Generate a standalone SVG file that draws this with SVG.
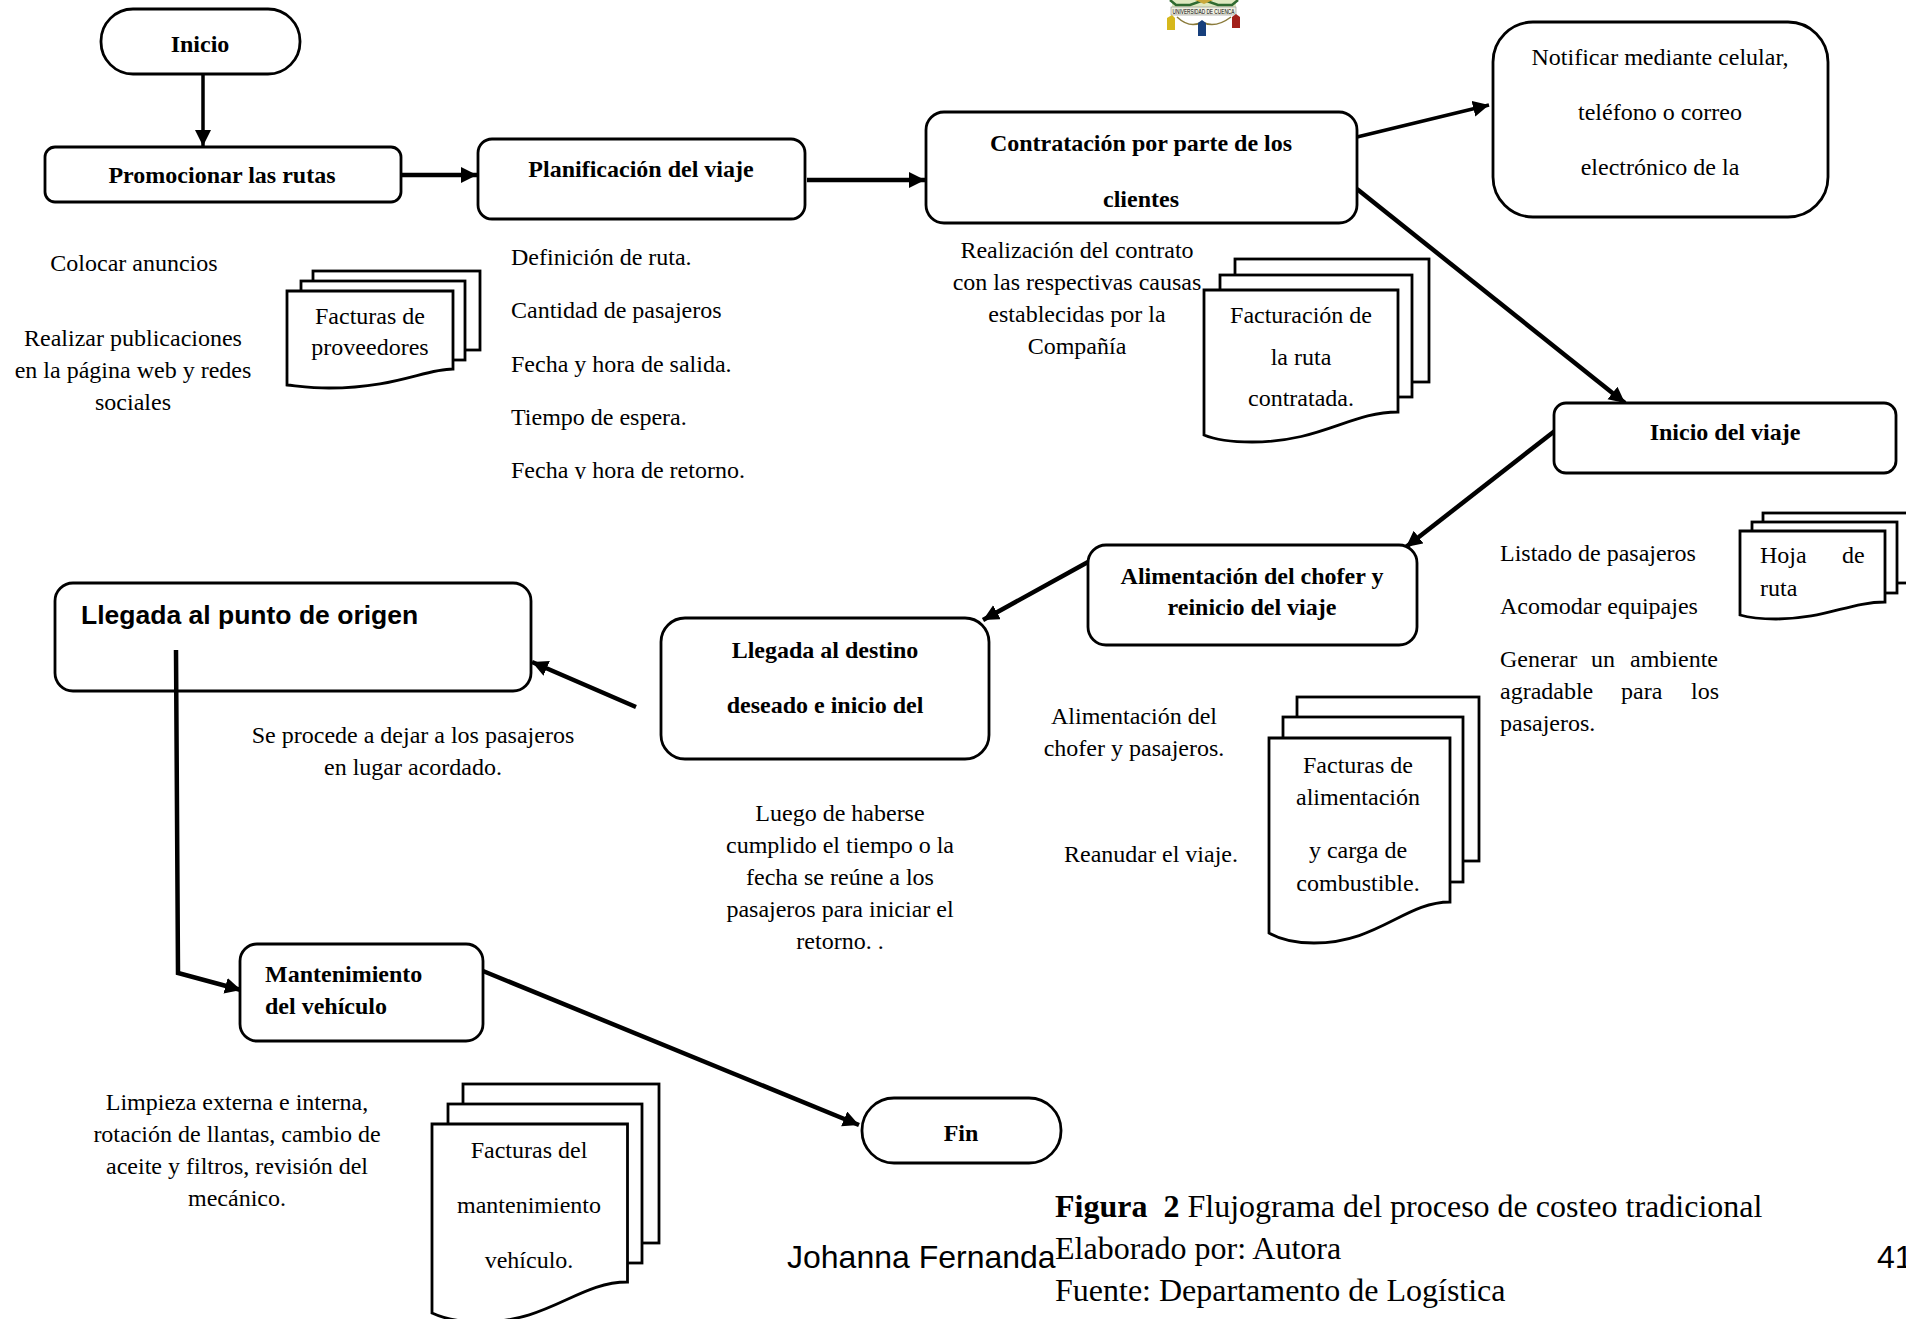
<svg xmlns="http://www.w3.org/2000/svg" width="1906" height="1319" viewBox="0 0 1906 1319">
<style>
text{font-family:"Liberation Serif","Times New Roman",serif;font-size:24px;fill:#000}
.b{font-weight:bold}
.c{text-anchor:middle}
.a{font-family:"Liberation Sans",Arial,sans-serif}
.s{fill:#fff;stroke:#000;stroke-width:2.800}
.l{fill:none;stroke:#000;stroke-width:3.5}
.t{stroke-width:4.5}
.p{font-size:32px;white-space:pre}
</style>
<defs>
<marker id="h" markerUnits="userSpaceOnUse" markerWidth="18" markerHeight="18" refX="16" refY="8" orient="auto"><path d="M0 0L16 8L0 16Z" fill="#000"/></marker>
<clipPath id="cl"><rect x="500" y="450" width="300" height="29"/></clipPath>
</defs>
<rect width="1906" height="1319" fill="#fff"/>
<g id="logo">
<path d="M1172 0H1236V8H1172Z" fill="#dfe8c0"/>
<path d="M1170 0L1176 5H1190L1204 0L1218 5H1232L1238 0" fill="none" stroke="#2f6a30" stroke-width="2.500"/>
<path d="M1195 0L1204 4L1213 0Z" fill="#c9a83a"/>
<rect x="1171" y="7" width="65" height="8" fill="#f0f0e2" stroke="#777" stroke-width="0.500"/>
<text x="1203.500" y="14" class="c" style="font-size:6.500px;font-family:'Liberation Sans',sans-serif" textLength="62" lengthAdjust="spacingAndGlyphs">UNIVERSIDAD DE CUENCA</text>
<path d="M1177 17Q1190 29 1202 22Q1215 29 1231 17" fill="none" stroke="#8a7a3a" stroke-width="1.500"/>
<path d="M1167 18L1172 15L1175 18V30H1167Z" fill="#d6b81c"/>
<path d="M1198 23L1202 20L1206 23V36H1198Z" fill="#173f7c"/>
<path d="M1232 17L1236 14L1240 17V28H1232Z" fill="#a3201a"/>
</g>
<g id="connectors">
<path class="l" d="M203 75V146" marker-end="url(#h)"/>
<path class="l t" d="M401 175H477" marker-end="url(#h)"/>
<path class="l t" d="M807 180H925" marker-end="url(#h)"/>
<path class="l" d="M1357 137L1489 105" marker-end="url(#h)"/>
<path class="l t" d="M1357 189L1625 403" marker-end="url(#h)"/>
<path class="l t" d="M1556 430L1406 547" marker-end="url(#h)"/>
<path class="l t" d="M1088 562L983 620" marker-end="url(#h)"/>
<path class="l t" d="M636 707L532 662" marker-end="url(#h)"/>
<path class="l t" d="M176 650L178 973L241 990" marker-end="url(#h)"/>
<path class="l t" d="M483 971L859 1125" marker-end="url(#h)"/>
</g>
<g id="inicio"><rect class="s" x="101" y="9" width="199" height="65" rx="32"/><text x="200" y="52" class="b c">Inicio</text></g>
<g id="promocionar"><rect class="s" x="45" y="147" width="356" height="55" rx="10"/><text x="222" y="183" class="b c">Promocionar las rutas</text></g>
<g id="planificacion"><rect class="s" x="478" y="139" width="327" height="80" rx="14"/><text x="641" y="177" class="b c">Planificación del viaje</text></g>
<g id="contratacion"><rect class="s" x="926" y="112" width="431" height="111" rx="18"/><text x="1141" y="151" class="b c">Contratación por parte de los</text><text x="1141" y="207" class="b c">clientes</text></g>
<g id="notificar"><rect class="s" x="1493" y="22" width="335" height="195" rx="40"/><text x="1660" y="65" class="c">Notificar mediante celular,</text><text x="1660" y="120" class="c">teléfono o correo</text><text x="1660" y="175" class="c">electrónico de la</text></g>
<g id="inicio-viaje"><rect class="s" x="1554" y="403" width="342" height="70" rx="12"/><text x="1725" y="440" class="b c">Inicio del viaje</text></g>
<g id="alimentacion"><rect class="s" x="1088" y="545" width="329" height="100" rx="18"/><text x="1252" y="584" class="b c">Alimentación del chofer y</text><text x="1252" y="615" class="b c">reinicio del viaje</text></g>
<g id="llegada-destino"><rect class="s" x="661" y="618" width="328" height="141" rx="24"/><text x="825" y="658" class="b c">Llegada al destino</text><text x="825" y="713" class="b c">deseado e inicio del</text></g>
<g id="llegada-origen"><rect class="s" x="55" y="583" width="476" height="108" rx="18" style="fill:none"/><text x="81" y="624" class="a b" style="font-size:26.500px">Llegada al punto de origen</text></g>
<g id="mantenimiento"><rect class="s" x="240" y="944" width="243" height="97" rx="17"/><text x="265" y="982" class="b">Mantenimiento</text><text x="265" y="1014" class="b">del vehículo</text></g>
<g id="fin"><rect class="s" x="862" y="1098" width="199" height="65" rx="32"/><text x="961" y="1141" class="b c">Fin</text></g>

<g id="doc-proveedores"><rect class="s" x="313" y="271" width="167" height="79"/><rect class="s" x="301" y="281" width="164" height="79"/>
<path class="s" d="M287 291H453V369C425 369 395 388 329 388C312 388 298 386 287 385Z"/>
<text x="370" y="324" class="c">Facturas de</text><text x="370" y="355" class="c">proveedores</text></g>
<g id="doc-facturacion"><rect class="s" x="1235" y="259" width="194" height="123"/><rect class="s" x="1220" y="275" width="192" height="122"/>
<path class="s" d="M1204 290H1398V412C1350 412 1322 442 1252 442C1234 442 1218 441 1204 435Z"/>
<text x="1301" y="323" class="c">Facturación de</text><text x="1301" y="365" class="c">la ruta</text><text x="1301" y="406" class="c">contratada.</text></g>
<g id="doc-hoja"><rect class="s" x="1763" y="513" width="160" height="70"/><rect class="s" x="1752" y="522" width="145" height="71"/>
<path class="s" d="M1740 531H1885V602C1850 602 1825 619 1776 619C1763 619 1750 618 1740 615Z"/>
<text y="563"><tspan x="1760">Hoja</tspan> <tspan x="1842">de</tspan></text><text x="1760" y="596">ruta</text></g>
<g id="doc-alimentacion"><rect class="s" x="1297" y="697" width="182" height="164"/><rect class="s" x="1283" y="717" width="180" height="165"/>
<path class="s" d="M1269 738H1450V902C1405 902 1378 943 1314 943C1298 943 1283 941 1269 933Z"/>
<text x="1358" y="773" class="c">Facturas de</text><text x="1358" y="805" class="c">alimentación</text><text x="1358" y="858" class="c">y carga de</text><text x="1358" y="891" class="c">combustible.</text></g>
<g id="doc-mantenimiento"><rect class="s" x="463" y="1084" width="196" height="159"/><rect class="s" x="448" y="1104" width="194" height="159"/>
<path class="s" d="M432 1124H627.500V1282C578 1282 550 1322 481 1322C463 1322 447 1320 432 1313Z"/>
<text x="529" y="1158" class="c">Facturas del</text><text x="529" y="1213" class="c">mantenimiento</text><text x="529" y="1268" class="c">vehículo.</text></g>

<g id="notas">
<text x="134" y="271" class="c">Colocar anuncios</text>
<text x="133" y="346" class="c">Realizar publicaciones</text><text x="133" y="378" class="c">en la página web y redes</text><text x="133" y="410" class="c">sociales</text>
<text x="511" y="265">Definición de ruta.</text><text x="511" y="318">Cantidad de pasajeros</text><text x="511" y="372">Fecha y hora de salida.</text><text x="511" y="425">Tiempo de espera.</text><text x="511" y="478" clip-path="url(#cl)">Fecha y hora de retorno.</text>
<text x="1077" y="258" class="c">Realización del contrato</text><text x="1077" y="290" class="c">con las respectivas causas</text><text x="1077" y="322" class="c">establecidas por la</text><text x="1077" y="354" class="c">Compañía</text>
<text x="1500" y="561">Listado de pasajeros</text><text x="1500" y="614">Acomodar equipajes</text>
<text y="667"><tspan x="1500">Generar</tspan> <tspan x="1591">un</tspan> <tspan x="1630">ambiente</tspan></text>
<text y="699"><tspan x="1500">agradable</tspan> <tspan x="1621">para</tspan> <tspan x="1691">los</tspan></text>
<text x="1500" y="731">pasajeros.</text>
<text x="1134" y="724" class="c">Alimentación del</text><text x="1134" y="756" class="c">chofer y pasajeros.</text>
<text x="1151" y="862" class="c">Reanudar el viaje.</text>
<text x="413" y="743" class="c">Se procede a dejar a los pasajeros</text><text x="413" y="775" class="c">en lugar acordado.</text>
<text x="840" y="821" class="c">Luego de haberse</text><text x="840" y="853" class="c">cumplido el tiempo o la</text><text x="840" y="885" class="c">fecha se reúne a los</text><text x="840" y="917" class="c">pasajeros para iniciar el</text><text x="840" y="949" class="c">retorno. .</text>
<text x="237" y="1110" class="c">Limpieza externa e interna,</text><text x="237" y="1142" class="c">rotación de llantas, cambio de</text><text x="237" y="1174" class="c">aceite y filtros, revisión del</text><text x="237" y="1206" class="c">mecánico.</text>
</g>
<g id="pie">
<text x="1055" y="1217" class="p"><tspan class="b">Figura  2</tspan> Flujograma del proceso de costeo tradicional</text>
<text x="1055" y="1259" class="p">Elaborado por: Autora</text>
<text x="1055" y="1301" class="p">Fuente: Departamento de Logística</text>
<text x="787" y="1268" class="a" style="font-size:32px">Johanna Fernanda</text>
<text x="1877" y="1268" class="a" style="font-size:32px">41</text>
</g>
</svg>
